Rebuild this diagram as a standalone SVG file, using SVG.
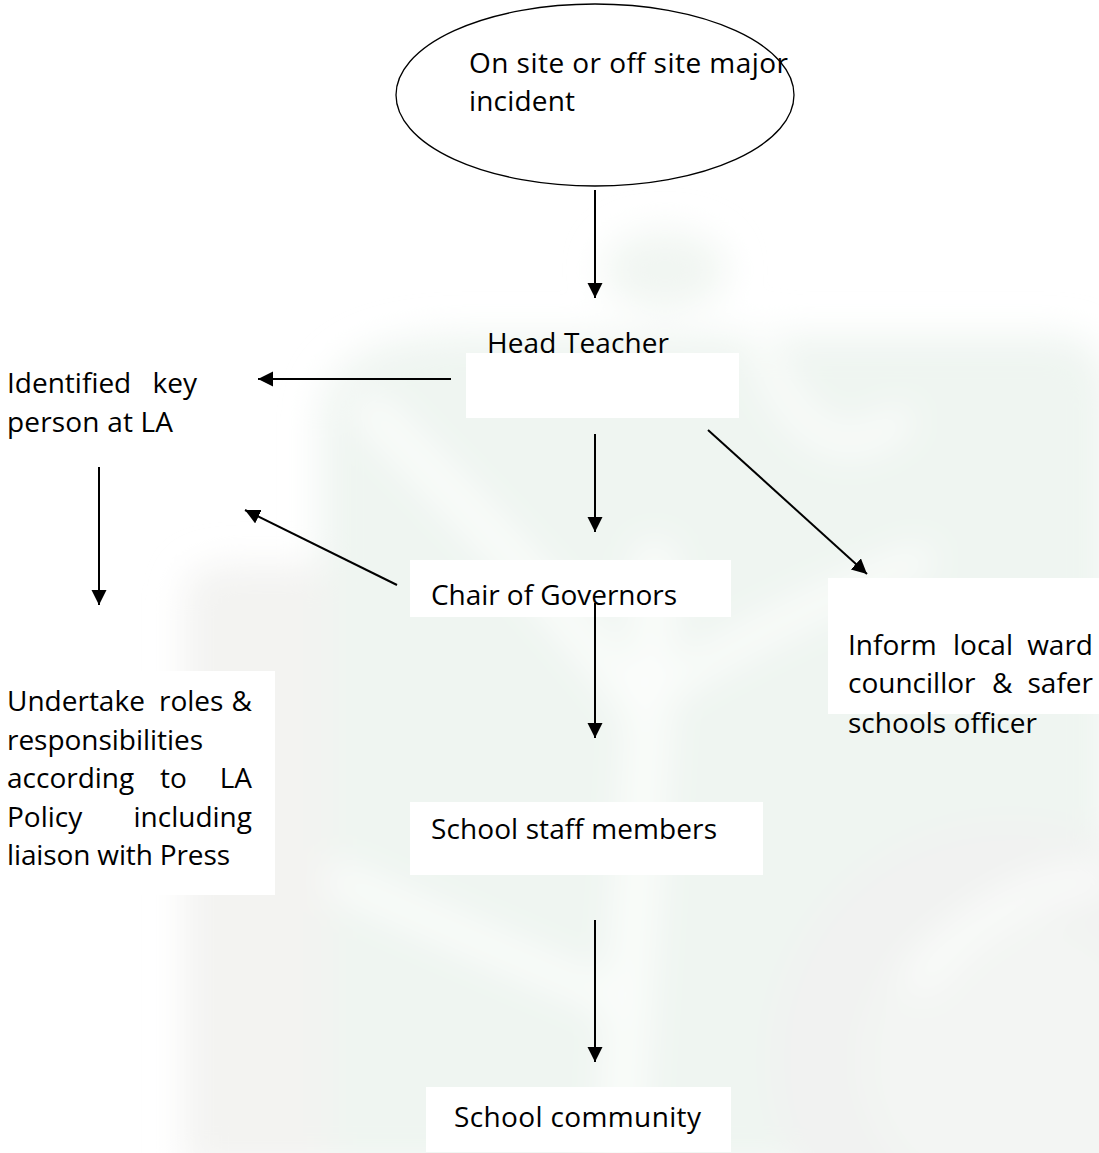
<svg xmlns="http://www.w3.org/2000/svg" width="1099" height="1153" viewBox="0 0 1099 1153">
  <style>
    .t { font-family: "Open Sans", "Noto Sans", "Liberation Sans", sans-serif; font-size: 28px; fill: #000; }
    .box { fill: #ffffff; stroke: none; }
    .edge { stroke: #000; stroke-width: 2; fill: none; marker-end: url(#head); }
    .end { text-anchor: end; }
  </style>
  <defs>
    <marker id="head" markerUnits="userSpaceOnUse" markerWidth="16" markerHeight="16" refX="15" refY="7.5" orient="auto">
      <path d="M0,0 L15,7.5 L0,15 Z" fill="#000"/>
    </marker>
    <filter id="soft" x="-20%" y="-20%" width="140%" height="140%">
      <feGaussianBlur stdDeviation="18"/>
    </filter>
  </defs>

  <rect width="1099" height="1153" fill="#ffffff"/>

  <!-- faint tree watermark behind the chart -->
  <g id="watermark" filter="url(#soft)">
    <path d="M320,420 C320,360 380,335 460,335 L1060,335 C1090,335 1110,360 1110,400 L1110,1170 L185,1170 L185,600 C185,575 200,565 230,565 L320,565 Z" fill="#eff5f1"/>
    <ellipse cx="665" cy="270" rx="62" ry="40" fill="#f1f6f2"/>
    <path d="M185,600 C185,575 200,565 230,565 L330,565 L330,1170 L185,1170 Z" fill="#f3f3f1"/>
    <circle cx="1010" cy="1060" r="240" fill="#f1f2f1"/>
    <circle cx="1010" cy="1060" r="150" fill="#f3f5f3"/>
    <g stroke="#fbfdfb" fill="none" stroke-linecap="round">
      <path d="M655,560 C650,760 630,950 620,1153" stroke-width="40"/>
      <path d="M650,720 C560,600 460,500 370,410" stroke-width="34"/>
      <path d="M660,690 C740,640 820,600 920,560" stroke-width="28"/>
      <path d="M615,1000 C520,960 430,920 340,880" stroke-width="30"/>
      <path d="M760,340 C790,430 840,470 900,420" stroke-width="26"/>
      <path d="M920,980 C980,900 1060,880 1099,880" stroke-width="26"/>
    </g>
  </g>

  <!-- white text boxes and their labels -->
  <g id="node-incident">
    <ellipse cx="595" cy="95" rx="199" ry="91" fill="#ffffff" stroke="#000" stroke-width="1.3"/>
    <text class="t" x="469" y="73" textLength="319">On site or off site major</text>
    <text class="t" x="469" y="111" textLength="106">incident</text>
  </g>

  <g id="node-head">
    <rect class="box" x="466" y="353" width="273" height="65"/>
    <text class="t" x="487" y="353" textLength="182">Head Teacher</text>
  </g>

  <g id="node-la">
    <text class="t" y="393"><tspan x="7">Identified </tspan><tspan class="end" x="197">key</tspan></text>
    <text class="t" x="7" y="432" textLength="166">person at LA</text>
  </g>

  <g id="node-chair">
    <rect class="box" x="410" y="560" width="321" height="57"/>
    <text class="t" x="431" y="605" textLength="246">Chair of Governors</text>
  </g>

  <g id="node-councillor">
    <rect class="box" x="828" y="578" width="271" height="136"/>
    <text class="t" y="655"><tspan x="848">Inform </tspan><tspan x="953">local </tspan><tspan class="end" x="1093">ward</tspan></text>
    <text class="t" y="693"><tspan x="848">councillor </tspan><tspan x="992">&amp; </tspan><tspan class="end" x="1093">safer</tspan></text>
    <text class="t" x="848" y="733" textLength="189">schools officer</text>
  </g>

  <g id="node-roles">
    <rect class="box" x="0" y="671" width="275" height="224"/>
    <text class="t" y="711"><tspan x="7">Undertake </tspan><tspan x="159">roles </tspan><tspan class="end" x="252">&amp;</tspan></text>
    <text class="t" x="7" y="750" textLength="196">responsibilities</text>
    <text class="t" y="788"><tspan x="7">according </tspan><tspan x="160">to </tspan><tspan class="end" x="252">LA</tspan></text>
    <text class="t" y="827"><tspan x="7">Policy </tspan><tspan class="end" x="252">including</tspan></text>
    <text class="t" x="7" y="865" textLength="223">liaison with Press</text>
  </g>

  <g id="node-staff">
    <rect class="box" x="410" y="802" width="353" height="73"/>
    <text class="t" x="431" y="839" textLength="286">School staff members</text>
  </g>

  <g id="node-community">
    <rect class="box" x="426" y="1087" width="305" height="65"/>
    <text class="t" x="454" y="1127" textLength="247">School community</text>
  </g>

  <!-- arrows -->
  <g id="connectors">
    <line class="edge" x1="595" y1="190" x2="595" y2="298"/>
    <line class="edge" x1="451" y1="379" x2="258" y2="379"/>
    <line class="edge" x1="99" y1="467" x2="99" y2="605"/>
    <line class="edge" x1="595" y1="434" x2="595" y2="532"/>
    <line class="edge" x1="708" y1="430" x2="867" y2="574"/>
    <line class="edge" x1="397" y1="585" x2="245" y2="510"/>
    <line class="edge" x1="595" y1="603" x2="595" y2="738"/>
    <line class="edge" x1="595" y1="920" x2="595" y2="1062"/>
  </g>
</svg>
